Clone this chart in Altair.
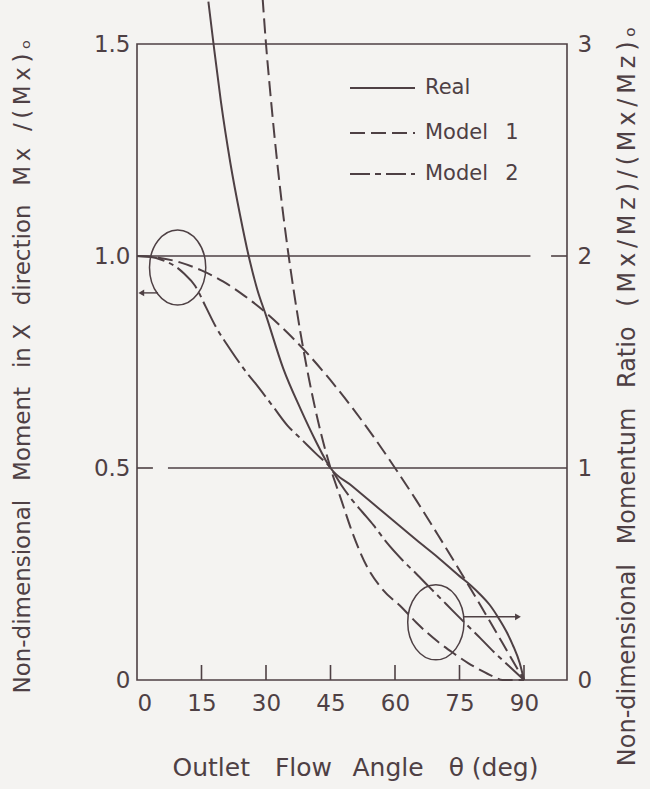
import altair as alt
import pandas as pd

INK = "#4e4044"
BG = "#f4f3f1"
FONT = "DejaVu Sans"

W, H = 430, 636

# ---------------- data ----------------
# Model 1: moment Mx/(Mx)o (left axis)
theta_m1_moment = [0, 5, 10, 15, 20, 25, 30, 35, 40, 45, 50, 55, 60, 65, 70, 75, 80, 85, 90]
m1_moment = [1.0, 0.996, 0.985, 0.966, 0.94, 0.906, 0.866, 0.819, 0.766, 0.707,
             0.643, 0.574, 0.5, 0.423, 0.342, 0.259, 0.174, 0.087, 0.0]

# Model 1: momentum ratio (right axis)
theta_m1_ratio = [29.2, 30, 31, 32, 33.5, 35, 36.5, 38, 40, 42, 45, 47.5, 50, 53.6,
                  57, 61.7, 65, 70, 73.7, 77, 80, 83, 85, 90]
m1_ratio = [3.22, 3.0, 2.77, 2.56, 2.28, 2.04, 1.83, 1.64, 1.42, 1.23, 1.0, 0.85, 0.70, 0.53,
            0.43, 0.34, 0.27, 0.18, 0.125, 0.08, 0.045, 0.015, 0.0, 0.0]

# Real: momentum ratio (right axis)
theta_real = [16.6, 17.8, 19.5, 21.7, 24, 26.2, 28, 30, 34, 38, 41.5, 45, 50, 55, 60,
              65, 70, 75, 77.7, 80, 82, 84, 86, 87.4, 89, 90]
real_ratio = [3.2, 3.0, 2.73, 2.44, 2.19, 1.98, 1.84, 1.72, 1.47, 1.28, 1.13, 1.0, 0.915,
              0.83, 0.745, 0.66, 0.578, 0.49, 0.445, 0.40, 0.355, 0.295, 0.225, 0.165, 0.08, 0.0]

# Model 2: moment Mx/(Mx)o (left axis)
theta_m2 = [0, 3, 6, 9, 11, 13.5, 16, 18.5, 21, 23, 25.5, 27.5, 30, 32, 35, 38, 41.5, 45,
            47.5, 50, 52.5, 55, 58, 61.7, 65, 68, 72, 76, 80, 83, 86.5, 90]
m2_moment = [1.0, 0.998, 0.99, 0.975, 0.958, 0.93, 0.88, 0.83, 0.79, 0.76, 0.725, 0.70,
             0.667, 0.64, 0.60, 0.57, 0.535, 0.5, 0.46, 0.425, 0.395, 0.365, 0.325, 0.283,
             0.25, 0.219, 0.178, 0.137, 0.097, 0.066, 0.033, 0.0]

x_ticks = [0, 15, 30, 45, 60, 75, 90]
inner_ticks = [15, 30, 45, 60, 75, 90]
left_ticks = [0, 0.5, 1.0, 1.5]
right_ticks = [0, 1, 2, 3]

# horizontal reference lines (left-axis value, start angle, end angle)
grid_y = [1.0, 1.0, 0.5, 0.5]
grid_x0 = [0, 96.3, 0, 7.2]
grid_x1 = [91.5, 100, 3.7, 100]

# ellipse markers pointing to the axis each curve group belongs to
ring_theta = [9.45, 69.5]
ring_value = [0.973, 0.136]
arrow_x0 = [4.9, 76.0]
arrow_x1 = [1.0, 88.6]
arrow_y = [0.913, 0.149]
arrow_tip = ["triangle-left", "triangle-right"]

DASH_M1 = [15, 6]
DASH_M2 = [28, 5, 5, 5]

GAP = "\u2002 "      # word gap in the axis titles
THIN = "\u2009"      # tracking inside the ratio formulas

left_title = ("Non-dimensional" + GAP + "Moment" + GAP + "in X" + GAP + "direction" + GAP
              + THIN.join("Mx /(Mx)") + THIN + "\u2092")
right_title = ("Non-dimensional" + GAP + "Momentum" + GAP + "Ratio" + GAP
               + THIN.join("(Mx/Mz)/(Mx/Mz)") + THIN + "\u2092")

x_scale = alt.Scale(domain=[0, 100], nice=False, zero=False)
yl_scale = alt.Scale(domain=[0, 1.5], nice=False, zero=False)
yr_scale = alt.Scale(domain=[0, 3], nice=False, zero=False)

x_axis = alt.Axis(
    values=x_ticks, ticks=False, tickSize=0, domain=False, grid=False,
    labelFont=FONT, labelFontSize=23, labelColor=INK, labelPadding=12,
    title="Outlet\u2003Flow\u2002 Angle\u2003\u03b8 (deg)", titleFont=FONT, titleFontSize=25,
    titleFontWeight="normal", titleColor=INK, titleX=218, titleY=87,
    titleBaseline="middle", titleAlign="center",
)
left_axis = alt.Axis(
    values=left_ticks, ticks=False, tickSize=0, domain=False, grid=False,
    labelExpr="datum.value == 0 ? '0' : format(datum.value, '.1f')",
    labelFont=FONT, labelFontSize=23, labelColor=INK, labelPadding=7,
    title=left_title,
    titleFont=FONT, titleFontSize=23, titleFontWeight="normal", titleColor=INK,
    titleAngle=270, titleX=-115, titleY=322, titleBaseline="middle", titleAlign="center",
)
right_axis = alt.Axis(
    orient="right", values=right_ticks, ticks=False, tickSize=0, domain=False, grid=False,
    labelFont=FONT, labelFontSize=23, labelColor=INK, labelPadding=10,
    title=right_title,
    titleFont=FONT, titleFontSize=24, titleFontWeight="normal", titleColor=INK,
    titleAngle=270, titleX=60, titleY=352, titleBaseline="middle", titleAlign="center",
)

X = alt.X("theta:Q", scale=x_scale, axis=x_axis)
YL = alt.Y("value:Q", scale=yl_scale, axis=left_axis)
YR = alt.Y("value:Q", scale=yr_scale, axis=right_axis)


def curve(theta, values, y_enc, dash=None):
    df = pd.DataFrame({"theta": theta, "value": values})
    kw = dict(color=INK, strokeWidth=2, interpolate="monotone")
    if dash:
        kw["strokeDash"] = dash
    return alt.Chart(df).mark_line(**kw).encode(x=X, y=y_enc)


m1_left = curve(theta_m1_moment, m1_moment, YL, DASH_M1)
m2_left = curve(theta_m2, m2_moment, YL, DASH_M2)
real_right = curve(theta_real, real_ratio, YR, None)
m1_right = curve(theta_m1_ratio, m1_ratio, YR, DASH_M1)

grid_df = pd.DataFrame({"value": grid_y, "theta": grid_x0, "theta_end": grid_x1})
grid = alt.Chart(grid_df).mark_rule(color=INK, strokeWidth=1.6).encode(
    x=X, x2="theta_end:Q", y=YL
)

tick_df = pd.DataFrame({"theta": inner_ticks})
ticks = alt.Chart(tick_df).mark_rule(color=INK, strokeWidth=1.6).encode(
    x=X, y=alt.value(H), y2=alt.value(H - 15)
)

ELLIPSE = "M 0.75 0 A 0.75 1 0 1 1 -0.75 0 A 0.75 1 0 1 1 0.75 0 Z"
ring_df = pd.DataFrame({"theta": ring_theta, "value": ring_value})
rings = alt.Chart(ring_df).mark_point(
    shape=ELLIPSE, size=5625, filled=False, color=INK, strokeWidth=1.5, opacity=1
).encode(x=X, y=YL)

arrow_df = pd.DataFrame({"theta": arrow_x0, "theta_end": arrow_x1, "value": arrow_y, "tip": arrow_tip})
arrow_lines = alt.Chart(arrow_df).mark_rule(color=INK, strokeWidth=1.4).encode(
    x=X, x2="theta_end:Q", y=YL
)
head_df = pd.DataFrame({"theta": arrow_x1, "value": arrow_y, "tip": arrow_tip})
arrow_heads = alt.Chart(head_df).mark_point(filled=True, color=INK, size=45, opacity=1).encode(
    x=X, y=YL,
    shape=alt.Shape("tip:N", scale=alt.Scale(domain=arrow_tip, range=arrow_tip), legend=None),
)

# legend drawn inside the frame
legend_labels = ["Real", "Model\u2002 1", "Model\u2002 2"]
legend_dash = [None, DASH_M1, [20, 5, 6, 5]]
legend_rows = [44, 89, 130]
legend_layers = []
for lab, dash, row in zip(legend_labels, legend_dash, legend_rows):
    kw = dict(color=INK, strokeWidth=2)
    if dash:
        kw["strokeDash"] = dash
    legend_layers.append(
        alt.Chart(pd.DataFrame({"label": [lab]})).mark_rule(**kw).encode(
            x=alt.value(213), x2=alt.value(278), y=alt.value(row)
        )
    )
    legend_layers.append(
        alt.Chart(pd.DataFrame({"label": [lab]})).mark_text(
            font=FONT, fontSize=21, color=INK, align="left", baseline="middle"
        ).encode(x=alt.value(288), y=alt.value(row), text="label:N")
    )

left_group = alt.layer(m1_left, m2_left, grid, ticks, rings, arrow_lines, arrow_heads, *legend_layers)
right_group = alt.layer(real_right, m1_right)

chart = (
    alt.layer(left_group, right_group)
    .resolve_scale(y="independent")
    .properties(
        width=W, height=H,
        autosize=alt.AutoSizeParams(type="none"),
        padding={"left": 137, "top": 44, "right": 650 - 137 - W, "bottom": 789 - 44 - H},
    )
    .configure(background=BG)
    .configure_view(stroke=INK, strokeWidth=1.6)
)

chart.save("out.html", embed_options={"renderer": "svg", "actions": False})
